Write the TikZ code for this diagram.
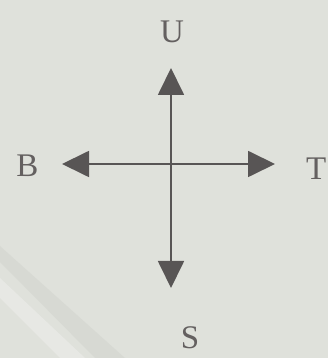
\documentclass[tikz,border=0pt]{standalone}
\usepackage{fontspec}
\setmainfont{Liberation Serif}
\usetikzlibrary{arrows.meta}
\definecolor{bg}{RGB}{223,225,219}
\definecolor{band}{RGB}{212,214,209}
\definecolor{ink}{RGB}{88,85,85}
\definecolor{txt}{RGB}{100,96,96}
\tikzset{
  dirarrow/.style={draw=ink, line width=1.8pt, -{Triangle[length=27pt,width=26pt]}},
  lbl/.style={text=txt, inner sep=0pt, font=\fontsize{33}{33}\selectfont}
}
\begin{document}
\begin{tikzpicture}[x=1pt,y=1pt]
\useasboundingbox (0,0) rectangle (328,358);
\fill[bg] (0,0) rectangle (328,358);
\fill[band, opacity=0.7] (0,112) -- (0,96) -- (95,0) -- (125,0) -- cycle;
\fill[white, opacity=0.25] (0,80) -- (0,60) -- (60,0) -- (85,0) -- cycle;
\coordinate (O) at (171,194);
\coordinate (Utip) at (171,290);
\coordinate (Stip) at (171,70);
\coordinate (Btip) at (62,194);
\coordinate (Ttip) at (275,194);
\draw[dirarrow] (O) -- (Utip);
\draw[dirarrow] (O) -- (Stip);
\draw[dirarrow] (O) -- (Btip);
\draw[dirarrow] (O) -- (Ttip);
\node[lbl] (U) at (172,326) {U};
\node[lbl] (B) at (27.5,192) {B};
\node[lbl, anchor=west] (T) at (306,189) {T};
\node[lbl] (S) at (190,20) {S};
\end{tikzpicture}
\end{document}
